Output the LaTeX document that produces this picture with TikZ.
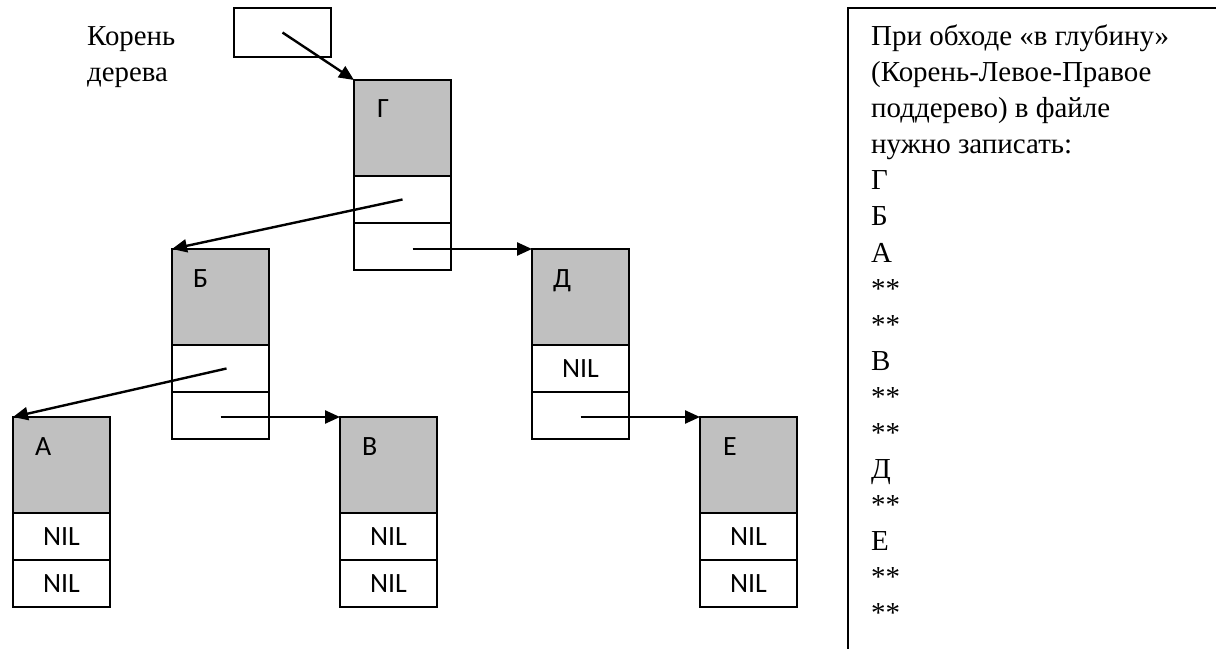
\documentclass[tikz,border=0pt]{standalone}
\usepackage{fontspec}
\usetikzlibrary{arrows.meta,calc}
\newfontfamily\serifR{Liberation Serif}
\newfontfamily\calib{Carlito}
\definecolor{cellgray}{RGB}{192,192,192}
\newlength\wA
\newlength\wB
\settowidth{\wA}{\serifR\fontsize{10}{12}\selectfont При обходе «в глубину»}
\settowidth{\wB}{\serifR\fontsize{10}{12}\selectfont Корень}
\pgfmathsetmacro{\fszR}{10*299.1/\wA}
\pgfmathsetmacro{\fszL}{10*88.3/\wB}
\begin{document}
\begin{tikzpicture}[x=1bp,y=-1bp,
  base/.style={draw=black, line width=2.4bp, rectangle, inner sep=0pt, outer sep=0pt, minimum width=97bp},
  datacell/.style={base, fill=cellgray, minimum height=96bp, anchor=north west},
  ptrcell/.style={base, fill=white, minimum height=47bp, anchor=north, font=\calib\fontsize{28}{34}\selectfont},
  lbl/.style={font=\calib\fontsize{28}{34}\selectfont, anchor=base west, inner sep=0pt},
  link/.style={line width=2.4bp, -{Triangle[length=15bp,width=13bp]}},
  txt/.style={font=\serifR\fontsize{\fszR}{36}\selectfont, anchor=base west, inner sep=0pt},
  bigtxt/.style={font=\serifR\fontsize{\fszL}{36}\selectfont, anchor=base west, inner sep=0pt}
]
\useasboundingbox (0,0) rectangle (1216,649);
\fill[white] (0,0) rectangle (1216,649);

% root pointer
\node[bigtxt] (rl1) at (87,46) {Корень};
\node[bigtxt] (rl2) at (87,82) {дерева};
\node[base, minimum height=49bp, anchor=north west] (root) at (234,8) {};

% node G
\node[datacell] (G) at (354,80) {};
\node[ptrcell] (G1) at (G.south) {};
\node[ptrcell] (G2) at (G1.south) {};
\node[lbl] (Gl) at ($(G.north west)+(23,38)$) {Г};

% node B (Б)
\node[datacell] (B) at (172,249) {};
\node[ptrcell] (B1) at (B.south) {};
\node[ptrcell] (B2) at (B1.south) {};
\node[lbl] (Bl) at ($(B.north west)+(21,38)$) {Б};

% node D (Д)
\node[datacell] (D) at (532,249) {};
\node[ptrcell] (D1) at (D.south) {NIL};
\node[ptrcell] (D2) at (D1.south) {};
\node[lbl] (Dl) at ($(D.north west)+(21,38)$) {Д};

% node A
\node[datacell] (A) at (13,417) {};
\node[ptrcell] (A1) at (A.south) {NIL};
\node[ptrcell] (A2) at (A1.south) {NIL};
\node[lbl] (Al) at ($(A.north west)+(22,38)$) {А};

% node V (В)
\node[datacell] (V) at (340,417) {};
\node[ptrcell] (V1) at (V.south) {NIL};
\node[ptrcell] (V2) at (V1.south) {NIL};
\node[lbl] (Vl) at ($(V.north west)+(22,38)$) {В};

% node E
\node[datacell] (E) at (700,417) {};
\node[ptrcell] (E1) at (E.south) {NIL};
\node[ptrcell] (E2) at (E1.south) {NIL};
\node[lbl] (El) at ($(E.north west)+(23,38)$) {Е};

% links
\draw[link] (root.center) -- (G.north west);
\draw[link] (G1.center) -- (B.north west);
\draw[link] ([xshift=10bp]G2.center |- D.north west) -- (D.north west);
\draw[link] ([xshift=6bp]B1.center) -- (A.north west);
\draw[link] (B2.center |- V.north west) -- (V.north west);
\draw[link] (D2.center |- E.north west) -- (E.north west);

% right text panel
\draw[line width=2.4bp] (1216,8) -- (848,8) -- (848,649);
\foreach \t [count=\i from 0] in {{При обходе «в глубину»},{(Корень-Левое-Правое},{поддерево) в файле},{нужно записать:},Г,Б,А,**,**,В,**,**,Д,**,Е,**,**}
  \node[txt] (t\i) at (871,{46+36*\i}) {\t};
\end{tikzpicture}
\end{document}
